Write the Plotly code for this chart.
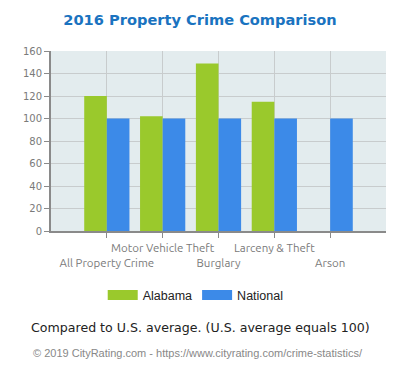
import plotly.graph_objects as go

categories = ["All Property Crime", "Motor Vehicle Theft", "Burglary", "Larceny & Theft", "Arson"]
alabama = [120, 102, 149, 115, None]
national = [100, 100, 100, 100, 100]
y_ticks = [0, 20, 40, 60, 80, 100, 120, 140, 160]
series_names = ["Alabama", "National"]
series_colors = ["#9ac92c", "#3c8ae8"]

positions = list(range(len(categories)))
tick_text = [("<br>" + c) if i % 2 == 0 else c for i, c in enumerate(categories)]

fig = go.Figure()
for name, vals, col in zip(series_names, [alabama, national], series_colors):
    fig.add_trace(go.Bar(x=positions, y=vals, name=name, marker_color=col, marker_line_width=0,
                         showlegend=False))
for name, col in zip(series_names, series_colors):
    fig.add_trace(go.Scatter(x=[None], y=[None], mode="lines", name=name,
                             line=dict(color=col, width=10), showlegend=True))

fig.update_layout(
    width=400, height=372,
    margin=dict(l=51, r=14, t=51, b=141),
    paper_bgcolor="white", plot_bgcolor="#e3ecee",
    barmode="group", bargap=0.19, bargroupgap=0,
    title=dict(text="<b>2016 Property Crime Comparison</b>", x=0.5, xanchor="center", y=0.946, yanchor="middle",
               font=dict(family="DejaVu Sans", size=14.6, color="#1a73c0")),
    xaxis=dict(range=[-1, 5], tickmode="array", tickvals=positions, ticktext=tick_text, tickangle=0,
               showgrid=True, gridcolor="#c8cccd", gridwidth=1,
               showline=True, linecolor="#8a8a8a", linewidth=2,
               ticks="outside", ticklen=5, tickcolor="#8a8a8a",
               tickfont=dict(family="Ubuntu, Lato, Liberation Sans", size=11.5, color="#7a7a7a"),
               fixedrange=True),
    yaxis=dict(range=[0, 160], tickmode="array", tickvals=y_ticks,
               showgrid=True, gridcolor="#c8cccd", gridwidth=1,
               showline=True, linecolor="#8a8a8a", linewidth=2,
               ticks="outside", ticklen=5, tickcolor="#8a8a8a",
               tickfont=dict(family="DejaVu Sans", size=10, color="#7a7a7a"),
               zeroline=False, fixedrange=True),
    legend=dict(orientation="h", x=0.432, xanchor="center", y=-0.357, yanchor="middle",
                font=dict(family="Liberation Sans", size=12.5, color="#222"), traceorder="normal",
                itemwidth=30),
    showlegend=True,
)

fig.add_annotation(text="Compared to U.S. average. (U.S. average equals 100)", xref="paper", yref="paper",
                   x=0.445, xanchor="center", y=-0.535, yanchor="middle", showarrow=False,
                   font=dict(family="DejaVu Sans", size=12.6, color="#222"))
fig.add_annotation(text="© 2019 CityRating.com - https://www.cityrating.com/crime-statistics/", xref="paper", yref="paper",
                   x=0.44, xanchor="center", y=-0.68, yanchor="middle", showarrow=False,
                   font=dict(family="Liberation Sans", size=11, color="#888"))

fig.write_html("out.html", config={"displayModeBar": False},
               post_script="document.body.style.margin='0';")
